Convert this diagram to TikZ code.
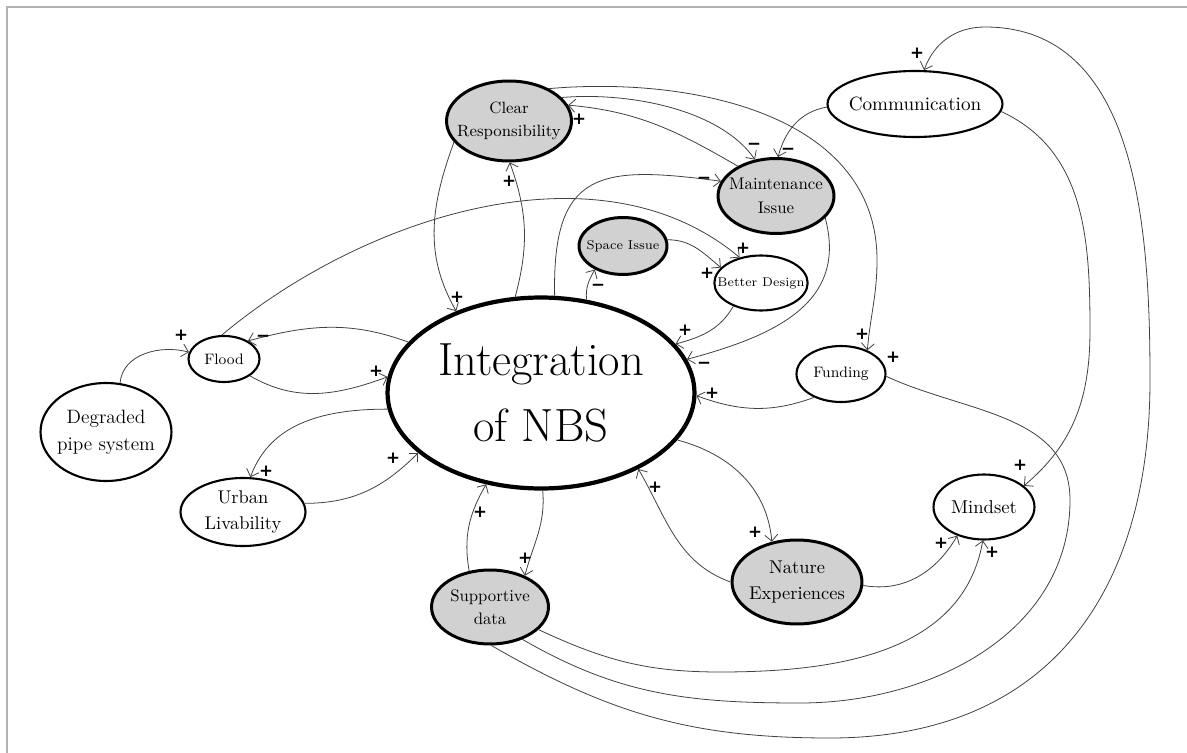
\documentclass[tikz,border=0pt]{standalone}
\usepackage{fontspec}
\usetikzlibrary{shapes.geometric,arrows.meta}

\newfontfamily\signfont{DejaVu Sans}
\newcommand{\fsz}[2]{\fontsize{#1}{#2}\selectfont}

\tikzset{
  var/.style={ellipse, draw=black, line width=1.2pt, fill=white, inner xsep=-6pt, inner ysep=0pt, align=center},
  keyvar/.style={var, fill=black!18, line width=1.7pt},
  core/.style={var, line width=2.4pt},
  link/.style={-{Straight Barb[length=1.3mm,width=2.6mm]}, draw=black!75, line width=0.45pt},
  plain/.style={draw=black!75, line width=0.45pt},
  pol/.style={font=\signfont\bfseries\fsz{9.5pt}{10pt}, inner sep=0pt},
  frame/.style={draw=black!30, line width=1.2pt}
}

\begin{document}
\begin{tikzpicture}[x=0.02cm, y=0.02cm]

\fill[white] (0,0) rectangle (1187,-753);
\useasboundingbox (0,0) rectangle (1187,-753);
\draw[frame] (1187,-7) -- (7,-7) -- (7,-753);

% variables
\node[core, minimum width=6.14cm, minimum height=3.82cm, font=\fsz{26.5pt}{38pt}] (int) at (541,-393) {Integration\\of NBS};
\node[keyvar, minimum width=2.5cm, minimum height=1.6cm, font=\fsz{9.3pt}{13pt}] (cr) at (509,-121) {Clear\\Responsibility};
\node[var, minimum width=3.5cm, minimum height=1.32cm, font=\fsz{10.9pt}{13pt}] (comm) at (915,-104) {Communication};
\node[keyvar, minimum width=2.32cm, minimum height=1.5cm, font=\fsz{9.6pt}{13.6pt}] (maint) at (776,-196) {Maintenance\\Issue};
\node[keyvar, minimum width=1.76cm, minimum height=1.14cm, font=\fsz{7.3pt}{9pt}] (space) at (623,-246) {Space Issue};
\node[var, minimum width=1.76cm, minimum height=1.1cm, font=\fsz{7.2pt}{9pt}] (bd) at (761,-283) {Better Design};
\node[var, minimum width=1.42cm, minimum height=0.92cm, font=\fsz{8.6pt}{10pt}] (flood) at (224,-359) {Flood};
\node[var, minimum width=2.62cm, minimum height=1.96cm, font=\fsz{11pt}{15.3pt}] (deg) at (106,-432) {Degraded\\pipe system};
\node[var, minimum width=2.5cm, minimum height=1.36cm, font=\fsz{10.5pt}{15pt}] (urban) at (243,-512) {Urban\\Livability};
\node[var, minimum width=1.78cm, minimum height=1.12cm, font=\fsz{8.6pt}{10pt}] (fund) at (841,-374) {Funding};
\node[var, minimum width=2.02cm, minimum height=1.3cm, font=\fsz{10.6pt}{12pt}] (mind) at (984,-507) {Mindset};
\node[keyvar, minimum width=2.6cm, minimum height=1.68cm, font=\fsz{10.5pt}{15.3pt}] (nat) at (797,-582) {Nature\\Experiences};
\node[keyvar, minimum width=2.34cm, minimum height=1.48cm, font=\fsz{9.5pt}{13pt}] (sd) at (490,-607) {Supportive\\data};

% links
\draw[link] (deg.74) to[out=85,in=165] (flood.169);
\draw[link] (int.159) to[out=160,in=15] (flood.37);
\draw[link] (flood.-33) to[out=-30,in=200] (int.174);
\draw[link] (flood.95) to[out=40,in=140,looseness=0.9] (bd.130);
\draw[link] (int.186) to[out=180,in=70] (urban.78);
\draw[link] (urban.8) to[out=0,in=225] (int.206);
\draw[link] (cr.201) to[out=250,in=120] (int.136);
\draw[link] (int.105) to[out=75,in=-70] (cr.-89);
\draw[link] (cr.24) to[out=5,in=125,looseness=0.8] (maint.120);
\draw[link] (maint.142) to[out=150,in=-5] (cr.15);
\draw[link] (cr.39) to[out=5,in=90] (877,-260) to[out=-90,in=85] (fund.42);
\draw[link] (comm.182) to[out=190,in=75] (maint.87);
\draw[link] (int.82) .. controls (552,-170) and (600,-165) .. (maint.165);
\draw[link] (maint.-24) to[out=-75,in=15,looseness=1.15] (int.13);
\draw[link] (space.8) to[out=0,in=140] (bd.159);
\draw[link] (int.64) to[out=95,in=-120] (space.220);
\draw[link] (bd.220) to[out=240,in=15] (int.20);
\draw[link] (fund.221) to[out=200,in=-20] (int.-1);
\draw[link] (comm.-5) to[out=-25,in=90] (1090,-330) to[out=-90,in=40] (mind.28);
\draw[link] (sd.-88) to[out=-30,in=180] (830,-738) to[out=0,in=-90,looseness=1.15] (1150,-380)
  to[out=90,in=0] (985,-27) to[out=180,in=70] (comm.75);
\draw[plain] (sd.-45) to[out=-30,in=180] (800,-703) to[out=0,in=-90] (1070,-500) to[out=90,in=-25] (fund.-3);
\draw[link] (sd.-25) to[out=-25,in=180] (720,-672) to[out=0,in=-100] (mind.-92);
\draw[link] (int.-19) to[out=-15,in=95] (nat.122);
\draw[link] (nat.180) to[out=160,in=-60] (int.-38);
\draw[link] (nat.-3) to[out=-10,in=-120] (mind.227);
\draw[link] (int.-89) to[out=-85,in=75] (sd.42);
\draw[link] (sd.120) to[out=100,in=-120] (int.-121);

% polarities
\foreach \x/\y [count=\i] in {181/335, 376/371, 743/248, 266/471, 393/458, 457/297, 509/181,
  579/119, 862/334, 893/357, 707/273, 685/330, 712/393, 1020/465, 917/53, 992/552, 755/532,
  655/487, 941/543, 525/558, 480/512}
  \node[pol] (p\i) at (\x,-\y) {+};
\foreach \x/\y [count=\i] in {263/338, 754/146, 788/151, 704/180, 598/287, 704/365}
  \node[pol] (m\i) at (\x,-\y) {−};

\end{tikzpicture}
\end{document}
